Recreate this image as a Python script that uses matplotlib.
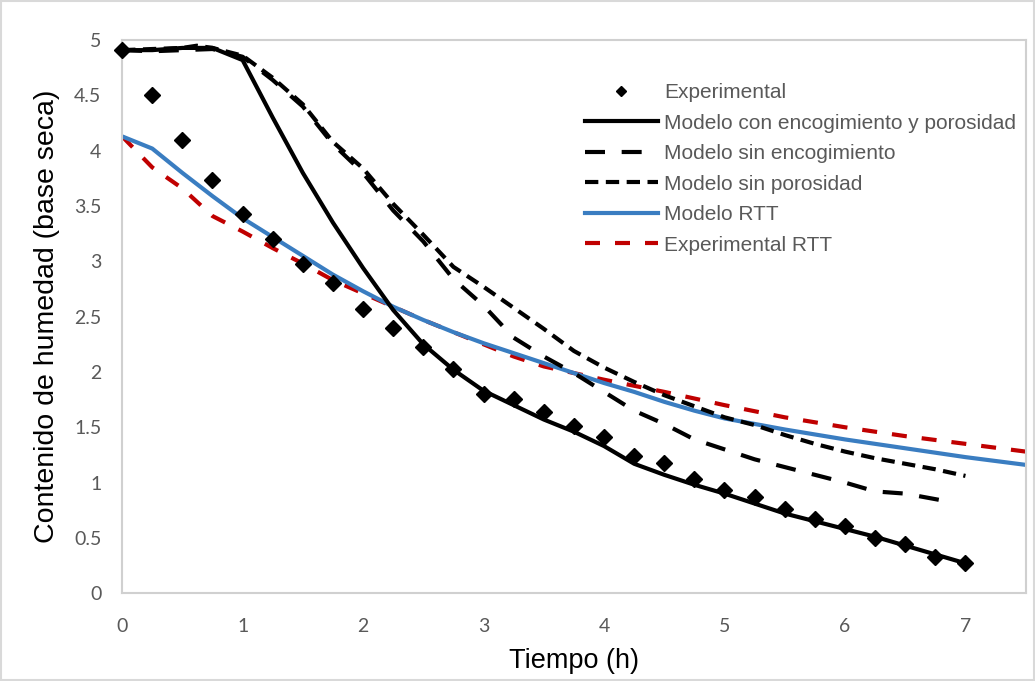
import matplotlib
matplotlib.use("Agg")
import matplotlib.pyplot as plt
from matplotlib.lines import Line2D
from matplotlib.patches import Rectangle

# --- data ------------------------------------------------------------------
t_exp = [0, 0.25, 0.5, 0.75, 1.0, 1.25, 1.5, 1.75, 2.0, 2.25, 2.5, 2.75, 3.0,
         3.25, 3.5, 3.75, 4.0, 4.25, 4.5, 4.75, 5.0, 5.25, 5.5, 5.75, 6.0,
         6.25, 6.5, 6.75, 7.0]
x_exp = [4.91, 4.50, 4.10, 3.74, 3.43, 3.20, 2.98, 2.80, 2.57, 2.40, 2.23,
         2.03, 1.80, 1.76, 1.64, 1.51, 1.41, 1.24, 1.18, 1.03, 0.93, 0.87,
         0.76, 0.67, 0.61, 0.50, 0.44, 0.33, 0.27]

t_full = [0, 0.25, 0.5, 0.75, 1.0, 1.25, 1.5, 1.75, 2.0, 2.25, 2.5, 2.75,
          3.0, 3.25, 3.5, 3.75, 4.0, 4.25, 4.5, 4.75, 5.0, 5.25, 5.5, 5.75,
          6.0, 6.25, 6.5, 6.75, 7.0]
x_full = [4.91, 4.91, 4.93, 4.93, 4.82, 4.30, 3.80, 3.35, 2.94, 2.56, 2.25,
          2.02, 1.83, 1.70, 1.57, 1.46, 1.33, 1.17, 1.07, 0.98, 0.90, 0.81,
          0.72, 0.65, 0.58, 0.51, 0.43, 0.35, 0.27]

t_sin_enc = [0, 0.25, 0.5, 0.75, 1.0, 1.25, 1.5, 1.75, 2.0, 2.25, 2.5, 2.75,
             3.0, 3.25, 3.5, 3.75, 4.0, 4.25, 4.5, 4.75, 5.0, 5.25, 5.5,
             5.75, 6.0, 6.25, 6.5, 6.85]
x_sin_enc = [4.91, 4.90, 4.91, 4.92, 4.85, 4.64, 4.40, 4.06, 3.80, 3.46,
             3.18, 2.84, 2.60, 2.31, 2.14, 1.99, 1.82, 1.65, 1.53, 1.39,
             1.30, 1.21, 1.14, 1.07, 1.00, 0.92, 0.90, 0.83]

t_sin_por = [0, 0.25, 0.5, 0.62, 0.75, 1.0, 1.25, 1.5, 1.75, 2.0, 2.25, 2.5,
             2.75, 3.0, 3.25, 3.5, 3.75, 4.0, 4.25, 4.5, 4.75, 5.0, 5.25,
             5.5, 5.75, 6.0, 6.25, 6.5, 6.75, 7.0]
x_sin_por = [4.91, 4.92, 4.93, 4.95, 4.93, 4.86, 4.66, 4.42, 4.08, 3.84,
             3.52, 3.24, 2.95, 2.77, 2.58, 2.39, 2.19, 2.04, 1.91, 1.79,
             1.69, 1.59, 1.52, 1.43, 1.35, 1.28, 1.22, 1.17, 1.12, 1.06]

t_rtt = [0, 0.25, 0.5, 0.75, 1.0, 1.25, 1.5, 1.75, 2.0, 2.25, 2.5, 2.75, 3.0,
         3.25, 3.5, 3.75, 4.0, 4.25, 4.5, 4.75, 5.0, 5.5, 6.0, 6.5, 7.0, 7.5]
x_rtt = [4.13, 4.02, 3.80, 3.59, 3.39, 3.22, 3.05, 2.88, 2.73, 2.59, 2.47,
         2.36, 2.26, 2.17, 2.08, 1.99, 1.90, 1.82, 1.73, 1.65, 1.58, 1.48,
         1.39, 1.31, 1.23, 1.16]

t_exp_rtt = [0, 0.25, 0.5, 0.75, 1.0, 1.25, 1.5, 1.75, 2.0, 2.25, 2.5, 2.75,
             3.0, 3.25, 3.5, 3.75, 4.0, 4.5, 5.0, 5.5, 6.0, 6.5, 7.0, 7.5]
x_exp_rtt = [4.13, 3.85, 3.66, 3.41, 3.27, 3.12, 2.98, 2.83, 2.71, 2.59,
             2.47, 2.36, 2.25, 2.14, 2.05, 1.99, 1.93, 1.82, 1.70, 1.59,
             1.50, 1.42, 1.35, 1.28]

x_ticks = [0, 1, 2, 3, 4, 5, 6, 7]
y_ticks = [0, 0.5, 1, 1.5, 2, 2.5, 3, 3.5, 4, 4.5, 5]
y_ticklabels = ["0", "0.5", "1", "1.5", "2", "2.5", "3", "3.5", "4", "4.5", "5"]

labels = ["Experimental", "Modelo con encogimiento y porosidad",
          "Modelo sin encogimiento", "Modelo sin porosidad", "Modelo RTT",
          "Experimental RTT"]

# --- figure -----------------------------------------------------------------
GRAY = "#595959"
BLUE = "#3a7dc1"
RED = "#c00000"
LW = 3.0
D_LONG = (4.8, 4.0)
D_SHORT = (3.2, 1.8)
D_RED = (3.6, 3.6)

fig = plt.figure(figsize=(10.35, 6.81), dpi=100)
ax = fig.add_axes([0.118, 0.129, 0.873, 0.812])

ax.plot(t_exp_rtt, x_exp_rtt, color=RED, lw=LW, dashes=D_RED)
ax.plot(t_rtt, x_rtt, color=BLUE, lw=LW)
ax.plot(t_sin_por, x_sin_por, color="black", lw=LW, dashes=D_SHORT)
ax.plot(t_sin_enc, x_sin_enc, color="black", lw=LW, dashes=D_LONG)
ax.plot(t_full, x_full, color="black", lw=LW)
ax.plot(t_exp, x_exp, linestyle="none", marker="D", markersize=8.5,
        color="black", zorder=5, clip_on=False)

ax.set_xlim(0, 7.5)
ax.set_ylim(0, 5)
ax.set_xticks(x_ticks)
ax.set_yticks(y_ticks)
ax.set_yticklabels(y_ticklabels)
ax.tick_params(length=0, labelsize=14, labelcolor=GRAY)
ax.tick_params(axis="x", pad=18)
ax.tick_params(axis="y", pad=15)
for lab in ax.get_xticklabels() + ax.get_yticklabels():
    lab.set_family("Lato")
for sp in ax.spines.values():
    sp.set_color("#d0d0d0")
    sp.set_linewidth(1.5)

ax.set_xlabel("Tiempo (h)", fontsize=19.5, family="Liberation Sans", labelpad=9)
ax.set_ylabel("Contenido de humedad (base seca)", fontsize=20.5,
              family="Liberation Sans", labelpad=10)

handles = [
    Line2D([], [], linestyle="none", marker="D", markersize=5, color="black"),
    Line2D([], [], color="black", lw=LW),
    Line2D([], [], color="black", lw=LW, dashes=D_LONG),
    Line2D([], [], color="black", lw=LW, dashes=D_SHORT),
    Line2D([], [], color=BLUE, lw=LW),
    Line2D([], [], color=RED, lw=LW, dashes=D_RED),
]
leg = ax.legend(handles, labels, loc="upper left", bbox_to_anchor=(0.512, 0.922),
                frameon=False, borderpad=0, borderaxespad=0, handlelength=3.5,
                handletextpad=0.3, labelspacing=0.55,
                prop={"family": "Liberation Sans", "size": 15})
for txt in leg.get_texts():
    txt.set_color(GRAY)

fig.patches.append(Rectangle((0.001, 0.001), 0.998, 0.998, transform=fig.transFigure,
                             fill=False, edgecolor="#d9d9d9", lw=1.5))

fig.savefig("out.png", dpi=100)
